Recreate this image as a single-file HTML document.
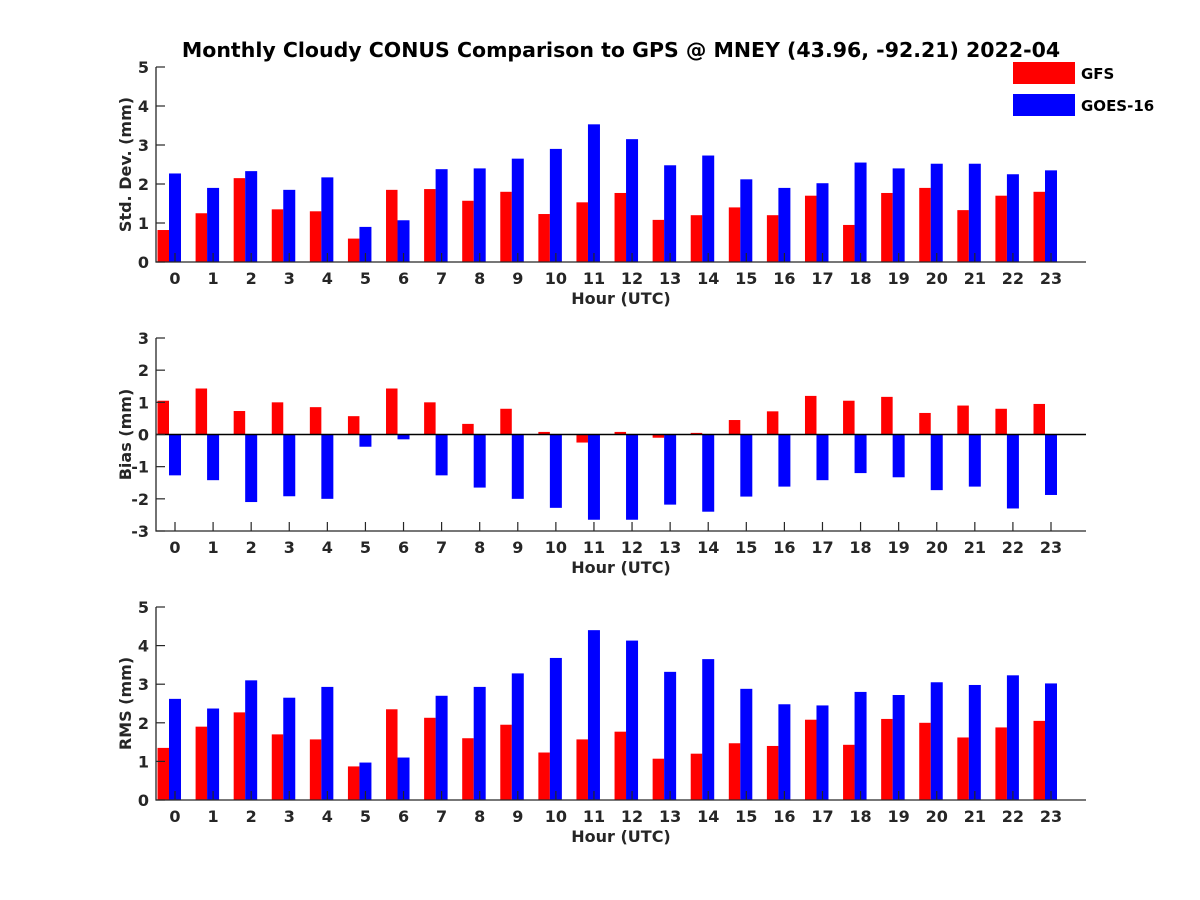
<!DOCTYPE html>
<html><head><meta charset="utf-8"><style>
body{margin:0;background:#fff}
svg{display:block}
text{font-family:"DejaVu Sans","Liberation Sans",sans-serif;font-weight:bold;fill:#262626}
</style></head><body>
<svg id="c" width="1200" height="900">
<rect width="1200" height="900" fill="#fff"/>
<text x="621" y="57" font-size="20.5" text-anchor="middle" style="fill:#000">Monthly Cloudy CONUS Comparison to GPS @ MNEY (43.96, -92.21) 2022-04</text>
<g>
<rect x="1013" y="62" width="62" height="22" fill="#ff0000"/>
<text x="1081" y="79" font-size="15" style="fill:#000">GFS</text>
<rect x="1013" y="94" width="62" height="22" fill="#0000ff"/>
<text x="1081" y="111" font-size="15" style="fill:#000">GOES-16</text>
</g>
</svg>
<script>
const hours=[0,1,2,3,4,5,6,7,8,9,10,11,12,13,14,15,16,17,18,19,20,21,22,23];
const stdGFS=[0.82,1.25,2.15,1.35,1.3,0.6,1.85,1.87,1.57,1.8,1.23,1.53,1.77,1.08,1.2,1.4,1.2,1.7,0.95,1.77,1.9,1.33,1.7,1.8];
const stdGOES=[2.27,1.9,2.33,1.85,2.17,0.9,1.07,2.38,2.4,2.65,2.9,3.53,3.15,2.48,2.73,2.12,1.9,2.02,2.55,2.4,2.52,2.52,2.25,2.35];
const biasGFS=[1.05,1.43,0.73,1.0,0.85,0.57,1.43,1.0,0.33,0.8,0.08,-0.25,0.08,-0.1,0.05,0.45,0.72,1.2,1.05,1.17,0.67,0.9,0.8,0.95];
const biasGOES=[-1.27,-1.42,-2.1,-1.92,-2.0,-0.38,-0.15,-1.27,-1.65,-2.0,-2.28,-2.65,-2.65,-2.18,-2.4,-1.93,-1.62,-1.42,-1.2,-1.33,-1.73,-1.62,-2.3,-1.88];
const rmsGFS=[1.35,1.9,2.27,1.7,1.57,0.87,2.35,2.13,1.6,1.95,1.23,1.57,1.77,1.07,1.2,1.47,1.4,2.08,1.43,2.1,2.0,1.62,1.88,2.05];
const rmsGOES=[2.62,2.37,3.1,2.65,2.93,0.97,1.1,2.7,2.93,3.28,3.68,4.4,4.13,3.32,3.65,2.88,2.48,2.45,2.8,2.72,3.05,2.98,3.23,3.02];
const stdTicks=[0,1,2,3,4,5];
const biasTicks=[-3,-2,-1,0,1,2,3];
const rmsTicks=[0,1,2,3,4,5];

const svg=document.getElementById('c');
const NS='http://www.w3.org/2000/svg';
function mk(tag,attrs,parent){const e=document.createElementNS(NS,tag);for(const k in attrs)e.setAttribute(k,attrs[k]);(parent||svg).appendChild(e);return e;}
const X0=156,X1=1086;
const xs=h=>175+h*(876/23);

function panel(name,top,bottom,ymin,ymax,ticks,gfs,goes,ylabel){
  const g=mk('g',{});
  
  
  const ys=v=>bottom-(v-ymin)/(ymax-ymin)*(bottom-top);
  const zero=ys(Math.max(ymin,0));
  hours.forEach((h,i)=>{
    const cx=xs(h);
    const vr=gfs[i],vb=goes[i];
    const r=mk('rect',{x:cx-17.5,width:11.5,y:Math.min(ys(vr),zero),height:Math.abs(ys(vr)-zero),fill:'#ff0000'},g);
    
    
    const b=mk('rect',{x:cx-6,width:12,y:Math.min(ys(vb),zero),height:Math.abs(ys(vb)-zero),fill:'#0000ff'},g);
    
    
  });
  const ax=mk('path',{d:`M${X0} ${top}V${bottom}H${X1}`,stroke:'#262626','stroke-width':1.3,fill:'none'},g);
  
  
  if(ymin<0){const z=mk('line',{x1:X0,x2:X1,y1:zero,y2:zero,stroke:'#000','stroke-width':1.5},g);
    }
  ticks.forEach(t=>{
    const y=ys(t);
    mk('line',{x1:X0,x2:X0+9,y1:y,y2:y,stroke:'#262626','stroke-width':1.2},g);
    const tx=mk('text',{x:X0-7,y:y+6,'font-size':16,'text-anchor':'end'},g);
    tx.textContent=t;
    
    
  });
  hours.forEach(h=>{
    const x=xs(h);
    mk('line',{x1:x,x2:x,y1:bottom,y2:bottom-9,stroke:'#262626','stroke-width':1.2},g);
    const tx=mk('text',{x:x,y:bottom+22,'font-size':16,'text-anchor':'middle'},g);
    tx.textContent=h;
    
    
  });
  const xl=mk('text',{x:621,y:bottom+42,'font-size':16,'text-anchor':'middle'},g);
  xl.textContent='Hour (UTC)';
  
  
  const yl=mk('text',{x:0,y:0,'font-size':16,'text-anchor':'middle',transform:`translate(131 ${(top+bottom)/2}) rotate(-90)`},g);
  yl.textContent=ylabel;
  
  
}
panel('std',67,262,0,5,stdTicks,stdGFS,stdGOES,'Std. Dev. (mm)');
panel('bias',338,531,-3,3,biasTicks,biasGFS,biasGOES,'Bias (mm)');
panel('rms',607,800,0,5,rmsTicks,rmsGFS,rmsGOES,'RMS (mm)');
</script>
</body></html>
